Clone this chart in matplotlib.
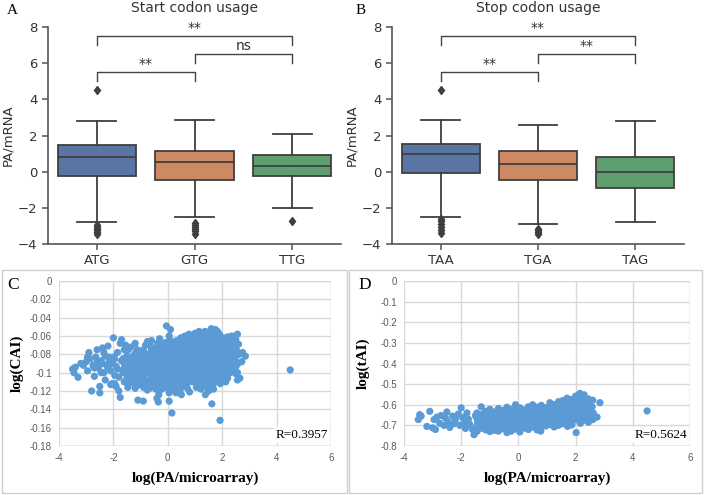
import matplotlib
matplotlib.use("Agg")
import matplotlib.pyplot as plt
from matplotlib.patches import Rectangle

# ---------------- data ----------------
start_codons = ["ATG", "GTG", "TTG"]
start_whislo = [-2.78, -2.51, -1.99]
start_q1 = [-0.22, -0.44, -0.26]
start_med = [0.81, 0.53, 0.33]
start_q3 = [1.49, 1.12, 0.90]
start_whishi = [2.82, 2.88, 2.06]
start_fliers = [[4.53, -2.95, -3.05, -3.15, -3.25, -3.35, -3.45],
                [-2.85, -2.95, -3.05, -3.15, -3.3, -3.45],
                [-2.75]]

stop_codons = ["TAA", "TGA", "TAG"]
stop_whislo = [-2.49, -2.91, -2.77]
stop_q1 = [-0.07, -0.46, -0.90]
stop_med = [0.98, 0.42, -0.04]
stop_q3 = [1.55, 1.16, 0.81]
stop_whishi = [2.88, 2.56, 2.80]
stop_fliers = [[4.53, -2.6, -2.75, -2.9, -3.05, -3.2, -3.4],
               [-3.15, -3.25, -3.35, -3.45],
               []]

start_sig = [("**", 0, 2), ("ns", 1, 2), ("**", 0, 1)]
stop_sig = [("**", 0, 2), ("**", 1, 2), ("**", 0, 1)]

cai_points = [
    (-3.5, -0.096), (-3.45, -0.1), (-3.4, -0.094), (-3.3, -0.105), (-3.1, -0.092),
    (-3.0, -0.088), (-2.95, -0.098), (-2.9, -0.078), (-2.85, -0.085), (-2.8, -0.12),
    (-2.75, -0.092), (-2.7, -0.104), (-2.65, -0.083), (-2.6, -0.075), (-2.55, -0.095),
    (-2.5, -0.122), (-2.5, -0.115), (-2.45, -0.087), (-2.4, -0.073), (-2.35, -0.1),
    (-2.3, -0.082), (-2.3, -0.108), (-2.25, -0.092), (-2.2, -0.071), (-2.15, -0.088),
    (-2.1, -0.098), (-2.05, -0.112), (-2.0, -0.062), (-2.0, -0.083), (-1.95, -0.103),
    (-1.9, -0.093), (-1.9, -0.115), (-1.85, -0.078), (-1.8, -0.12), (-1.75, -0.127),
    (-1.75, -0.068), (-1.7, -0.064), (-1.7, -0.087), (-1.65, -0.1), (-1.6, -0.11),
    (-1.6, -0.075),
    (-3.2, -0.09), (-2.95, -0.083), (-2.7, -0.095), (-2.6, -0.089), (-2.45, -0.1),
    (-2.4, -0.09), (-2.2, -0.095), (-2.15, -0.083), (-2.05, -0.09), (-1.95, -0.085),
    (-1.85, -0.096), (-1.8, -0.105), (-1.65, -0.085), (-1.6, -0.095), (-1.55, -0.07),
    (-1.45, -0.075), (-2.35, -0.078), (-2.1, -0.113), (-1.95, -0.112), (-1.2, -0.117),
    (-1.5, -0.082), (-1.52, -0.091), (-1.48, -0.098), (-1.5, -0.106), (-1.47, -0.116),
    (-1.35, -0.072), (-1.37, -0.086), (-1.33, -0.095), (-1.36, -0.103), (-1.34, -0.111),
    (-1.2, -0.079), (-1.22, -0.089), (-1.18, -0.1), (-1.21, -0.108), (-1.2, -0.068),
    (-1.05, -0.083), (-1.07, -0.092), (-1.03, -0.102), (-1.06, -0.112), (-1.1, -0.13),
    (-0.9, -0.075), (-0.92, -0.087), (-0.88, -0.096), (-0.91, -0.105), (-0.89, -0.116), (-0.9, -0.131),
    (-0.75, -0.066), (-0.77, -0.08), (-0.73, -0.09), (-0.76, -0.099), (-0.74, -0.109), (-0.75, -0.119),
    (-0.6, -0.074), (-0.62, -0.085), (-0.58, -0.094), (-0.61, -0.103), (-0.59, -0.113), (-0.6, -0.065),
    (-0.45, -0.078), (-0.47, -0.088), (-0.43, -0.097), (-0.46, -0.107), (-0.44, -0.118), (-0.4, -0.128),
    (-0.3, -0.063), (-0.32, -0.072), (-0.28, -0.082), (-0.31, -0.092), (-0.29, -0.1), (-0.3, -0.11),
    (-0.33, -0.124), (-0.35, -0.132),
    (-0.15, -0.076), (-0.17, -0.086), (-0.13, -0.095), (-0.16, -0.104), (-0.14, -0.113), (-0.15, -0.068),
    (-0.05, -0.049), (0.0, -0.072), (0.02, -0.081), (-0.02, -0.09), (0.01, -0.098), (-0.01, -0.107),
    (0.0, -0.117), (0.05, -0.131),
    (0.1, -0.053), (0.1, -0.065), (0.12, -0.077), (0.08, -0.086), (0.11, -0.094), (0.09, -0.103),
    (0.1, -0.112), (0.15, -0.144),
    (0.25, -0.07), (0.27, -0.079), (0.23, -0.088), (0.26, -0.097), (0.24, -0.105), (0.25, -0.115), (0.3, -0.122),
    (0.4, -0.066), (0.42, -0.075), (0.38, -0.084), (0.41, -0.092), (0.39, -0.101), (0.4, -0.11), (0.45, -0.119),
    (0.55, -0.068), (0.57, -0.078), (0.53, -0.087), (0.56, -0.096), (0.54, -0.104), (0.55, -0.113), (0.5, -0.124),
    (0.7, -0.064), (0.72, -0.073), (0.68, -0.082), (0.71, -0.09), (0.69, -0.099), (0.7, -0.108), (0.72, -0.117),
    (0.85, -0.06), (0.87, -0.07), (0.83, -0.079), (0.86, -0.088), (0.84, -0.097), (0.85, -0.105), (0.8, -0.121),
    (1.0, -0.057), (1.02, -0.066), (0.98, -0.075), (1.01, -0.084), (0.99, -0.093), (1.0, -0.101),
    (1.02, -0.11), (1.05, -0.116),
    (1.15, -0.055), (1.17, -0.064), (1.13, -0.073), (1.16, -0.082), (1.14, -0.091), (1.15, -0.1), (1.17, -0.109),
    (1.3, -0.059), (1.32, -0.068), (1.28, -0.077), (1.31, -0.086), (1.29, -0.095), (1.3, -0.104),
    (1.32, -0.113), (1.38, -0.124),
    (1.45, -0.056), (1.47, -0.065), (1.43, -0.074), (1.46, -0.083), (1.44, -0.092), (1.45, -0.101),
    (1.47, -0.11), (1.5, -0.12),
    (1.6, -0.052), (1.62, -0.062), (1.58, -0.071), (1.61, -0.08), (1.59, -0.089), (1.6, -0.098),
    (1.62, -0.107), (1.58, -0.116), (1.62, -0.134),
    (1.75, -0.053), (1.77, -0.063), (1.73, -0.072), (1.76, -0.081), (1.74, -0.09), (1.75, -0.099), (1.77, -0.108),
    (1.9, -0.058), (1.92, -0.067), (1.88, -0.076), (1.91, -0.085), (1.89, -0.094), (1.9, -0.103),
    (1.93, -0.112), (1.92, -0.152),
    (2.05, -0.062), (2.07, -0.071), (2.03, -0.08), (2.06, -0.089), (2.04, -0.098), (2.05, -0.107),
    (2.2, -0.061), (2.22, -0.07), (2.18, -0.079), (2.21, -0.088), (2.19, -0.097), (2.2, -0.106),
    (2.35, -0.06), (2.37, -0.068), (2.33, -0.077), (2.36, -0.086), (2.34, -0.095),
    (2.5, -0.064), (2.52, -0.075), (2.48, -0.084), (2.51, -0.093), (2.49, -0.101),
    (2.6, -0.069), (2.62, -0.08), (2.58, -0.09), (2.65, -0.106),
    (2.75, -0.078), (2.72, -0.088), (2.85, -0.082),
    (-1.42, -0.087), (-1.42, -0.1), (-1.42, -0.11),
    (-1.28, -0.082), (-1.28, -0.091), (-1.28, -0.099), (-1.28, -0.107),
    (-1.12, -0.075), (-1.12, -0.084), (-1.12, -0.094), (-1.12, -0.104), (-1.12, -0.114),
    (-0.98, -0.079), (-0.98, -0.088), (-0.98, -0.097), (-0.98, -0.107),
    (-0.82, -0.07), (-0.82, -0.083), (-0.82, -0.092), (-0.82, -0.101), (-0.82, -0.111),
    (-0.67, -0.07), (-0.67, -0.079), (-0.67, -0.089), (-0.67, -0.098), (-0.67, -0.108), (-0.67, -0.117),
    (-0.52, -0.073), (-0.52, -0.083), (-0.52, -0.092), (-0.52, -0.102), (-0.52, -0.112),
    (-0.37, -0.068), (-0.37, -0.077), (-0.37, -0.087), (-0.37, -0.096), (-0.37, -0.105), (-0.37, -0.115),
    (-0.22, -0.072), (-0.22, -0.081), (-0.22, -0.091), (-0.22, -0.1), (-0.22, -0.109), (-0.22, -0.118),
    (-0.07, -0.067), (-0.07, -0.076), (-0.07, -0.086), (-0.07, -0.094), (-0.07, -0.103), (-0.07, -0.112),
    (0.05, -0.06), (0.05, -0.077), (0.05, -0.085), (0.05, -0.094), (0.05, -0.102), (0.05, -0.111), (0.05, -0.122),
    (0.18, -0.068), (0.18, -0.074), (0.18, -0.082), (0.18, -0.091), (0.18, -0.099), (0.18, -0.108), (0.18, -0.118),
    (0.33, -0.065), (0.33, -0.074), (0.33, -0.083), (0.33, -0.092), (0.33, -0.101), (0.33, -0.11), (0.33, -0.116),
    (0.48, -0.062), (0.48, -0.071), (0.48, -0.08), (0.48, -0.089), (0.48, -0.097), (0.48, -0.106), (0.48, -0.116),
    (0.63, -0.06), (0.63, -0.069), (0.63, -0.078), (0.63, -0.086), (0.63, -0.095), (0.63, -0.104), (0.63, -0.112),
    (0.78, -0.058), (0.78, -0.065), (0.78, -0.075), (0.78, -0.084), (0.78, -0.093), (0.78, -0.101), (0.78, -0.11),
    (0.92, -0.062), (0.92, -0.066), (0.92, -0.074), (0.92, -0.083), (0.92, -0.092), (0.92, -0.101), (0.92, -0.11),
    (1.08, -0.06), (1.08, -0.07), (1.08, -0.079), (1.08, -0.088), (1.08, -0.097), (1.08, -0.105), (1.08, -0.114),
    (1.22, -0.058), (1.22, -0.064), (1.22, -0.073), (1.22, -0.082), (1.22, -0.09), (1.22, -0.099),
    (1.22, -0.108), (1.22, -0.118),
    (1.37, -0.055), (1.37, -0.061), (1.37, -0.07), (1.37, -0.079), (1.37, -0.088), (1.37, -0.097),
    (1.37, -0.106), (1.37, -0.115),
    (1.52, -0.058), (1.52, -0.067), (1.52, -0.076), (1.52, -0.085), (1.52, -0.094), (1.52, -0.103), (1.52, -0.112),
    (1.68, -0.057), (1.68, -0.066), (1.68, -0.076), (1.68, -0.085), (1.68, -0.094), (1.68, -0.103),
    (1.68, -0.112), (1.68, -0.118),
    (1.83, -0.055), (1.83, -0.062), (1.83, -0.071), (1.83, -0.08), (1.83, -0.089), (1.83, -0.098), (1.83, -0.107),
    (1.98, -0.063), (1.98, -0.067), (1.98, -0.076), (1.98, -0.085), (1.98, -0.094), (1.98, -0.103), (1.98, -0.11),
    (2.13, -0.066), (2.13, -0.075), (2.13, -0.084), (2.13, -0.093), (2.13, -0.102), (2.13, -0.11),
    (2.28, -0.064), (2.28, -0.073), (2.28, -0.082), (2.28, -0.091), (2.28, -0.1),
    (2.43, -0.062), (2.43, -0.071), (2.43, -0.08), (2.43, -0.089), (2.43, -0.098),
    (2.56, -0.058), (2.56, -0.1), (2.56, -0.108),
    (-0.95, -0.093), (-0.8, -0.097), (-0.65, -0.084), (-0.5, -0.097), (-0.35, -0.091),
    (-0.2, -0.086), (-0.05, -0.081), (0.12, -0.09), (0.28, -0.093), (0.43, -0.088),
    (0.6, -0.091), (0.75, -0.087), (0.9, -0.079), (1.05, -0.092), (1.2, -0.086),
    (1.35, -0.092), (1.5, -0.08), (1.65, -0.09), (1.8, -0.084), (1.95, -0.08),
    (2.1, -0.088), (2.25, -0.094), (2.4, -0.085), (-1.3, -0.094), (-1.15, -0.089),
    (-1.6, -0.09), (-1.0, -0.1), (-0.55, -0.105), (0.2, -0.104), (0.95, -0.106),
    (1.7, -0.098), (-0.25, -0.095), (0.6, -0.074), (1.3, -0.071),
    (4.5, -0.097),
]

tai_points = [
    (-3.5, -0.672), (-3.45, -0.648), (-3.4, -0.655), (-3.1, -0.632), (-3.2, -0.705),
    (-3.0, -0.712), (-2.95, -0.672), (-2.9, -0.72), (-2.85, -0.66), (-2.75, -0.69),
    (-2.7, -0.652), (-2.6, -0.7), (-2.55, -0.665), (-2.5, -0.635), (-2.45, -0.683),
    (-2.4, -0.71), (-2.3, -0.655), (-2.25, -0.692), (-2.2, -0.672), (-2.1, -0.645),
    (-2.05, -0.7), (-2.0, -0.615), (-1.95, -0.662), (-1.9, -0.685), (-1.85, -0.715),
    (-1.8, -0.64), (-1.75, -0.67), (-1.7, -0.695), (-1.6, -0.72), (-1.55, -0.745),
    (-1.5, -0.652),
    (-1.45, -0.64), (-1.47, -0.662), (-1.43, -0.684), (-1.46, -0.706), (-1.44, -0.728),
    (-1.3, -0.61), (-1.32, -0.648), (-1.28, -0.67), (-1.31, -0.692), (-1.29, -0.714),
    (-1.15, -0.632), (-1.17, -0.655), (-1.13, -0.677), (-1.16, -0.699), (-1.14, -0.722),
    (-1.0, -0.622), (-1.02, -0.645), (-0.98, -0.667), (-1.01, -0.689), (-0.99, -0.711), (-1.0, -0.73),
    (-0.85, -0.635), (-0.87, -0.658), (-0.83, -0.68), (-0.86, -0.702), (-0.84, -0.724),
    (-0.7, -0.618), (-0.72, -0.642), (-0.68, -0.664), (-0.71, -0.686), (-0.69, -0.708), (-0.7, -0.728),
    (-0.55, -0.628), (-0.57, -0.65), (-0.53, -0.672), (-0.56, -0.694), (-0.54, -0.716),
    (-0.4, -0.612), (-0.42, -0.636), (-0.38, -0.658), (-0.41, -0.68), (-0.39, -0.702), (-0.4, -0.735),
    (-0.25, -0.622), (-0.27, -0.644), (-0.23, -0.666), (-0.26, -0.688), (-0.24, -0.71), (-0.25, -0.728),
    (-0.1, -0.6), (-0.12, -0.63), (-0.08, -0.652), (-0.11, -0.674), (-0.09, -0.696), (-0.1, -0.718),
    (0.05, -0.615), (0.03, -0.638), (0.07, -0.66), (0.04, -0.682), (0.06, -0.704), (0.05, -0.732),
    (0.2, -0.625), (0.18, -0.647), (0.22, -0.669), (0.19, -0.691), (0.21, -0.713),
    (0.35, -0.61), (0.33, -0.633), (0.37, -0.655), (0.34, -0.677), (0.36, -0.699), (0.35, -0.72),
    (0.5, -0.6), (0.48, -0.62), (0.52, -0.642), (0.49, -0.664), (0.51, -0.686), (0.5, -0.708),
    (0.65, -0.612), (0.63, -0.635), (0.67, -0.657), (0.64, -0.679), (0.66, -0.701), (0.65, -0.722),
    (0.8, -0.603), (0.78, -0.625), (0.82, -0.647), (0.79, -0.669), (0.81, -0.691), (0.8, -0.71), (0.78, -0.728),
    (0.95, -0.615), (0.93, -0.637), (0.97, -0.659), (0.94, -0.681), (0.96, -0.703),
    (1.1, -0.59), (1.08, -0.608), (1.12, -0.63), (1.09, -0.652), (1.11, -0.674), (1.1, -0.696),
    (1.25, -0.6), (1.23, -0.622), (1.27, -0.644), (1.24, -0.666), (1.26, -0.688), (1.25, -0.708),
    (1.4, -0.585), (1.38, -0.612), (1.42, -0.634), (1.39, -0.656), (1.41, -0.678), (1.4, -0.7),
    (1.55, -0.58), (1.53, -0.603), (1.57, -0.625), (1.54, -0.647), (1.56, -0.669), (1.55, -0.692),
    (1.7, -0.568), (1.68, -0.595), (1.72, -0.617), (1.69, -0.639), (1.71, -0.661), (1.7, -0.683), (1.72, -0.705),
    (1.85, -0.575), (1.83, -0.59), (1.87, -0.612), (1.84, -0.634), (1.86, -0.656), (1.85, -0.678), (1.87, -0.698),
    (2.0, -0.558), (1.98, -0.585), (2.02, -0.607), (1.99, -0.629), (2.01, -0.651), (2.0, -0.673), (2.02, -0.735),
    (2.15, -0.545), (2.13, -0.575), (2.17, -0.6), (2.14, -0.622), (2.16, -0.644), (2.15, -0.666), (2.17, -0.69),
    (2.3, -0.552), (2.28, -0.58), (2.32, -0.605), (2.29, -0.628), (2.31, -0.65), (2.3, -0.675),
    (2.45, -0.572), (2.43, -0.595), (2.47, -0.62), (2.44, -0.645), (2.46, -0.668), (2.45, -0.685),
    (2.6, -0.578), (2.58, -0.61), (2.62, -0.64), (2.6, -0.672),
    (2.75, -0.66), (2.85, -0.59),
    (4.5, -0.63),
]
cai_x = [p[0] for p in cai_points]
cai_y = [p[1] for p in cai_points]
tai_x = [p[0] for p in tai_points]
tai_y = [p[1] for p in tai_points]

cai_yticks = [0, -0.02, -0.04, -0.06, -0.08, -0.1, -0.12, -0.14, -0.16, -0.18]
cai_ylabels = ["0", "-0.02", "-0.04", "-0.06", "-0.08", "-0.1", "-0.12", "-0.14", "-0.16", "-0.18"]
tai_yticks = [0, -0.1, -0.2, -0.3, -0.4, -0.5, -0.6, -0.7, -0.8]
tai_ylabels = ["0", "-0.1", "-0.2", "-0.3", "-0.4", "-0.5", "-0.6", "-0.7", "-0.8"]
xticks_sc = [-4, -2, 0, 2, 4, 6]
xlabels_sc = ["-4", "-2", "0", "2", "4", "6"]

box_colors = ["#5975a4", "#cc8963", "#5f9e6e"]
W, H = 704, 495

fig = plt.figure(figsize=(W / 100, H / 100), dpi=100)


def fbox(x0, y0, x1, y1):
    return [x0 / W, 1 - y1 / H, (x1 - x0) / W, (y1 - y0) / H]


def box_panel(rect, cats, wl, q1, med, q3, wh, fl, sig, title, letter, letter_x):
    ax = fig.add_axes(rect)
    stats = []
    for i in range(len(cats)):
        stats.append(dict(whislo=wl[i], q1=q1[i], med=med[i], q3=q3[i], whishi=wh[i], fliers=fl[i]))
    lc = "#3f3f3f"
    bp = ax.bxp(stats, positions=range(len(cats)), widths=0.8, patch_artist=True,
                boxprops=dict(edgecolor=lc, linewidth=1.3),
                medianprops=dict(color=lc, linewidth=1.3),
                whiskerprops=dict(color=lc, linewidth=1.3),
                capprops=dict(color=lc, linewidth=1.3),
                flierprops=dict(marker="d", markerfacecolor=lc, markeredgecolor=lc, markersize=4.5))
    for patch, c in zip(bp["boxes"], box_colors):
        patch.set_facecolor(c)
    ax.set_xlim(-0.5, len(cats) - 0.5)
    ax.set_ylim(-4, 8)
    ax.set_yticks([-4, -2, 0, 2, 4, 6, 8])
    ax.set_xticks(range(len(cats)))
    ax.set_xticklabels(cats)
    for s in ["top", "right"]:
        ax.spines[s].set_visible(False)
    for s in ["left", "bottom"]:
        ax.spines[s].set_color("#555555")
        ax.spines[s].set_linewidth(1.2)
    ax.tick_params(colors="#333333", labelsize=9.5, length=4, width=1.1, color="#555555")
    ax.set_ylabel("PA/mRNA", fontsize=9.5, color="#333333", labelpad=3)
    ax.set_title(title, fontsize=10, color="#333333", pad=10.5)
    levels = [(7.5, 7.0), (6.5, 6.0), (5.5, 5.0)]
    for (txt, a, b), (top, leg) in zip(sig, levels):
        ax.plot([a, a, b, b], [leg, top, top, leg], color="#444444", linewidth=1.0)
        ax.text((a + b) / 2, top + 0.05, txt, ha="center", va="bottom", fontsize=10, color="#333333")
    fig.text(letter_x / W, 1 - 10 / H, letter, family="Liberation Serif", fontsize=11, va="center", ha="left")
    return ax


box_panel(fbox(48, 27, 341, 244), start_codons, start_whislo, start_q1, start_med, start_q3,
          start_whishi, start_fliers, start_sig, "Start codon usage", "A", 7)
box_panel(fbox(392, 27, 684, 244), stop_codons, stop_whislo, stop_q1, stop_med, stop_q3,
          stop_whishi, stop_fliers, stop_sig, "Stop codon usage", "B", 356)

# frames for C and D
fig.patches.append(Rectangle((2 / W, 1 - 493 / H), 345 / W, 223 / H, transform=fig.transFigure,
                             fill=False, edgecolor="#d0d0d0", linewidth=1.0))
fig.patches.append(Rectangle((349 / W, 1 - 493 / H), 353 / W, 223 / H, transform=fig.transFigure,
                             fill=False, edgecolor="#d0d0d0", linewidth=1.0))


def scatter_panel(rect, xs, ys, ylim, yticks, ylabels, ylabel, rtext, letter, letter_x, ylab_x):
    ax = fig.add_axes(rect)
    ax.scatter(xs, ys, s=27, color="#5b9bd5", edgecolors="none", zorder=3)
    ax.set_xlim(-4, 6)
    ax.set_ylim(*ylim)
    ax.set_xticks(xticks_sc)
    ax.set_xticklabels(xlabels_sc)
    ax.set_yticks(yticks)
    ax.set_yticklabels(ylabels)
    ax.grid(True, color="#d9d9d9", linewidth=1.0, zorder=0)
    ax.set_axisbelow(True)
    for s in ax.spines.values():
        s.set_visible(False)
    ax.axvline(6, color="#d9d9d9", linewidth=1.0, zorder=0)
    ax.axhline(ylim[1], color="#d9d9d9", linewidth=1.0, zorder=0)
    ax.axhline(ylim[0], color="#bfbfbf", linewidth=1.0, zorder=1)
    ax.tick_params(length=0, labelsize=7, colors="#595959", pad=5)
    for lab in ax.get_xticklabels() + ax.get_yticklabels():
        lab.set_family("Liberation Sans")
    ax.set_xlabel("log(PA/microarray)", family="Liberation Serif", fontweight="bold", fontsize=11, labelpad=6)
    ax.set_ylabel(ylabel, family="Liberation Serif", fontweight="bold", fontsize=11)
    ax.yaxis.set_label_coords(ylab_x, 0.5)
    ax.text(0.99, 0.03, rtext, transform=ax.transAxes, ha="right", va="bottom",
            family="Liberation Serif", fontsize=9.5, zorder=5,
            bbox=dict(facecolor="white", edgecolor="none", pad=1.5))
    fig.text(letter_x / W, 1 - 285 / H, letter, family="Liberation Serif", fontsize=12.5, va="center", ha="left")
    return ax


scatter_panel(fbox(59, 281, 331, 446), cai_x, cai_y, (-0.18, 0), cai_yticks, cai_ylabels,
              "log(CAI)", "R=0.3957", "C", 7, -0.13)
scatter_panel(fbox(404, 281, 690, 446), tai_x, tai_y, (-0.8, 0), tai_yticks, tai_ylabels,
              "log(tAI)", "R=0.5624", "D", 358, -0.12)

fig.savefig("out.png", dpi=100)
